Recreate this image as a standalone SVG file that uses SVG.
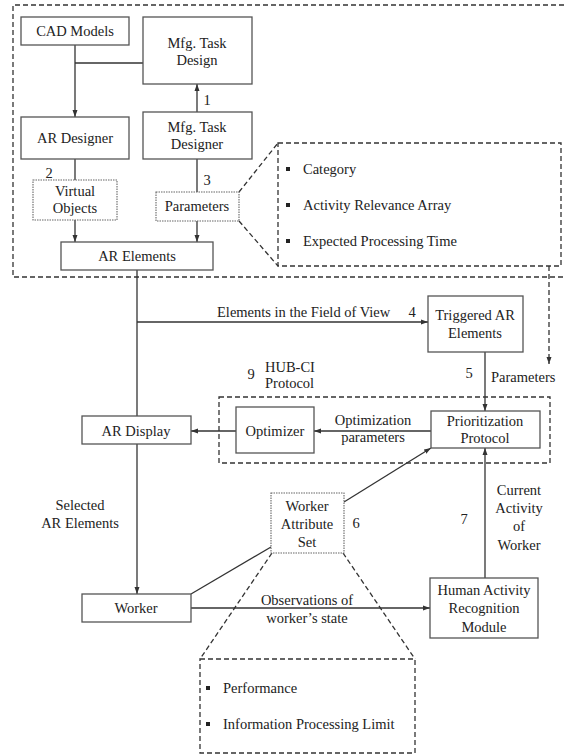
<svg xmlns="http://www.w3.org/2000/svg" width="564" height="755" viewBox="0 0 564 755">
<style>
text{font-family:'Liberation Serif','Times New Roman',Times,'DejaVu Serif',serif;font-size:14.5px;fill:#222}
.c{text-anchor:middle}
.box{fill:#fff;stroke:#555;stroke-width:1.3}
.dot{fill:#fff;stroke:#666;stroke-width:1.1;stroke-dasharray:1.5,1}
.dash{fill:none;stroke:#333;stroke-width:1.3;stroke-dasharray:5,3}
.ln{fill:none;stroke:#333;stroke-width:1.3}
.arr{marker-end:url(#ah)}
.bul{fill:#222}
</style>
<defs>
<marker id="ah" markerWidth="7" markerHeight="6" refX="7" refY="3" orient="auto" markerUnits="userSpaceOnUse">
<path d="M0,0.5 L7,3 L0,5.5 Z" fill="#333"/>
</marker>
</defs>

<g id="frames">
<path class="dash" d="M564,5 H13 V277 H564"/>
<rect class="dash" x="278" y="143" width="283" height="123"/>
<rect class="dash" x="219" y="397" width="331" height="66"/>
<rect class="dash" x="200" y="659" width="215" height="94"/>
</g>

<g id="connectors">
<path class="ln arr" d="M75,45 V117"/>
<path class="ln" d="M75,63 H143"/>
<path class="ln arr" d="M197,112 V84"/>
<path class="ln" d="M75,159 V180"/>
<path class="ln" d="M197,159 V192"/>
<path class="ln arr" d="M75,220 V242"/>
<path class="ln arr" d="M197,221 V242"/>
<path class="ln" d="M137,270 V416"/>
<path class="ln arr" d="M137,322 H428"/>
<path class="ln arr" d="M137,444 V594"/>
<path class="ln arr" d="M485,352 V411"/>
<path class="dash arr" d="M549,266 V364"/>
<path class="ln arr" d="M431,431 H314"/>
<path class="ln arr" d="M236,431 H191"/>
<path class="ln arr" d="M344,502 L431,448"/>
<path class="ln" d="M191,594 L271,547"/>
<path class="ln arr" d="M191,608 H430"/>
<path class="ln arr" d="M485,578 V448"/>
<path class="dash" d="M239,192 L278,143 M239,221 L278,266"/>
<path class="dash" d="M272,553 L200,659 M343,553 L415,659"/>
</g>

<g id="cad-models"><rect class="box" x="21" y="17" width="108" height="28"/><text class="c" x="75" y="36">CAD Models</text></g>
<g id="mfg-task-design"><rect class="box" x="143" y="17" width="109" height="67"/><text class="c" x="197" y="48">Mfg. Task</text><text class="c" x="197" y="65">Design</text></g>
<g id="ar-designer"><rect class="box" x="21" y="117" width="108" height="42"/><text class="c" x="75" y="143">AR Designer</text></g>
<g id="mfg-task-designer"><rect class="box" x="143" y="112" width="109" height="47"/><text class="c" x="197" y="132">Mfg. Task</text><text class="c" x="197" y="149">Designer</text></g>
<g id="virtual-objects"><rect class="dot" x="33" y="180" width="84" height="40"/><text class="c" x="75" y="196">Virtual</text><text class="c" x="75" y="213">Objects</text></g>
<g id="parameters"><rect class="dot" x="156" y="192" width="83" height="29"/><text class="c" x="197" y="211">Parameters</text></g>
<g id="ar-elements"><rect class="box" x="61" y="242" width="152" height="28"/><text class="c" x="137" y="261">AR Elements</text></g>
<g id="param-list">
<rect class="bul" x="286" y="167" width="4" height="4"/><text x="303" y="174">Category</text>
<rect class="bul" x="286" y="203" width="4" height="4"/><text x="303" y="210">Activity Relevance Array</text>
<rect class="bul" x="286" y="239" width="4" height="4"/><text x="303" y="246">Expected Processing Time</text>
</g>
<g id="triggered-ar-elements"><rect class="box" x="428" y="296" width="95" height="56"/><text class="c" x="475" y="320">Triggered AR</text><text class="c" x="475" y="338">Elements</text></g>
<g id="ar-display"><rect class="box" x="82" y="416" width="109" height="28"/><text class="c" x="136" y="436">AR Display</text></g>
<g id="optimizer"><rect class="box" x="236" y="407" width="78" height="46"/><text class="c" x="275" y="436">Optimizer</text></g>
<g id="prioritization-protocol"><rect class="box" x="431" y="411" width="109" height="37"/><text class="c" x="485" y="426">Prioritization</text><text class="c" x="485" y="443">Protocol</text></g>
<g id="worker-attribute-set"><rect class="dot" x="271" y="493" width="73" height="60"/><text class="c" x="307" y="511">Worker</text><text class="c" x="307" y="529">Attribute</text><text class="c" x="307" y="547">Set</text></g>
<g id="worker"><rect class="box" x="82" y="594" width="109" height="28"/><text class="c" x="136" y="613">Worker</text></g>
<g id="human-activity-recognition"><rect class="box" x="430" y="578" width="108" height="60"/><text class="c" x="484" y="595">Human Activity</text><text class="c" x="484" y="613">Recognition</text><text class="c" x="484" y="632">Module</text></g>
<g id="worker-list">
<rect class="bul" x="206" y="686" width="4" height="4"/><text x="223" y="693">Performance</text>
<rect class="bul" x="206" y="722" width="4" height="4"/><text x="223" y="729">Information Processing Limit</text>
</g>

<g id="labels">
<text class="c" x="207" y="105">1</text>
<text class="c" x="49" y="178">2</text>
<text class="c" x="207" y="185">3</text>
<text x="217" y="317">Elements in the Field of View</text>
<text class="c" x="412" y="317">4</text>
<text class="c" x="469" y="378">5</text>
<text x="491" y="382">Parameters</text>
<text class="c" x="251" y="379">9</text>
<text x="265" y="372">HUB-CI</text>
<text x="265" y="388">Protocol</text>
<text class="c" x="373" y="425">Optimization</text>
<text class="c" x="373" y="442">parameters</text>
<text class="c" x="80" y="510">Selected</text>
<text class="c" x="80" y="528">AR Elements</text>
<text class="c" x="356" y="528">6</text>
<text class="c" x="464" y="524">7</text>
<text class="c" x="519" y="495">Current</text>
<text class="c" x="519" y="513">Activity</text>
<text class="c" x="519" y="531">of</text>
<text class="c" x="519" y="550">Worker</text>
<text class="c" x="307" y="605">Observations of</text>
<text class="c" x="307" y="623">worker’s state</text>
</g>
</svg>
